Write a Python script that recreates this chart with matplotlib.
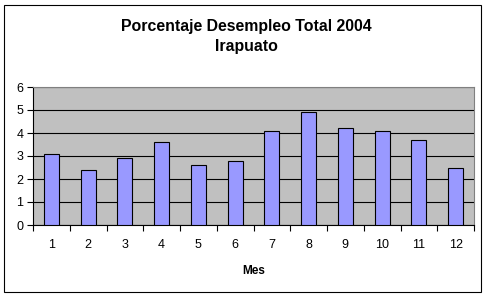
import numpy as np
import matplotlib.pyplot as plt
from matplotlib.patches import Rectangle

plt.rcParams['font.family'] = ['Liberation Sans', 'DejaVu Sans']

meses = ['1', '2', '3', '4', '5', '6', '7', '8', '9', '10', '11', '12']
desempleo = [3.1, 2.4, 2.9, 3.6, 2.6, 2.8, 4.1, 4.9, 4.2, 4.1, 3.7, 2.5]

W, H = 492, 297
fig = plt.figure(figsize=(W / 100, H / 100), dpi=100)

# plot area in pixels: x 33..474, y 87..225
ax = fig.add_axes([33 / W, 1 - 225 / H, (474 - 33) / W, (225 - 87) / H])
ax.set_facecolor('#C0C0C0')

x = np.arange(len(meses))
ax.bar(x, desempleo, width=0.41, color='#9999FF', edgecolor='black', linewidth=0.8, zorder=3)

ax.set_xlim(-0.5, len(meses) - 0.5)
ax.set_ylim(0, 6)
ax.set_yticks(range(0, 7))
ax.yaxis.grid(True, color='black', linewidth=0.8, zorder=1)
ax.set_axisbelow(True)

# category ticks between bars, labels centred
ax.set_xticks(np.arange(-0.5, len(meses)), minor=False)
ax.set_xticklabels([])
ax.set_xticks(x, minor=True)
ax.set_xticklabels(meses, minor=True)
ax.tick_params(axis='x', which='major', length=4, width=0.8, direction='out')
ax.tick_params(axis='x', which='minor', length=0, pad=10, labelsize=9)
ax.tick_params(axis='y', length=4, width=0.8, direction='out', labelsize=9, pad=3)

for s in ['top', 'right']:
    ax.spines[s].set_color('#808080')
    ax.spines[s].set_linewidth(0.8)
for s in ['left', 'bottom']:
    ax.spines[s].set_color('black')
    ax.spines[s].set_linewidth(0.8)

ax.set_xlabel('Mes', fontsize=8.5, fontweight='bold', labelpad=10)

fig.text(0.5, 1 - 27 / H, 'Porcentaje Desempleo Total 2004', ha='center', va='center',
         fontsize=11.4, fontweight='bold')
fig.text(0.5, 1 - 46 / H, 'Irapuato', ha='center', va='center',
         fontsize=11.4, fontweight='bold')

# outer chart border
fig.patches.append(Rectangle((4 / W, 1 - 292 / H), (481 - 4) / W, (292 - 5) / H,
                             transform=fig.transFigure, fill=False,
                             edgecolor='black', linewidth=0.8))

fig.savefig('out.png', dpi=100)
